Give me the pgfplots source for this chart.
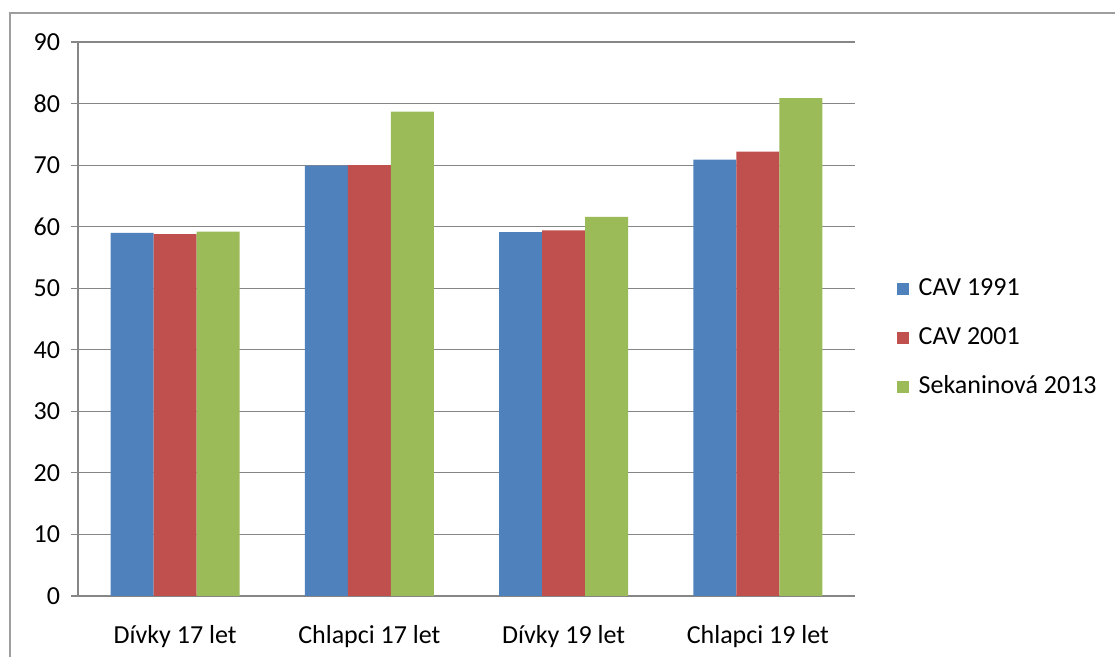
\documentclass[border=0pt]{standalone}
\usepackage{fontspec}
\setmainfont{Carlito}
\usepackage{pgfplots}
\pgfplotsset{compat=1.18}
\definecolor{cblue}{HTML}{4F81BD}
\definecolor{cred}{HTML}{C0504D}
\definecolor{cgreen}{HTML}{9BBB59}
\definecolor{cgrid}{HTML}{868686}
\begin{document}
\begin{tikzpicture}[x=1pt,y=1pt]
\fontsize{19.5}{23}\selectfont
\path[use as bounding box] (0,0) rectangle (836.25,492.75);
\draw[cgrid!80,line width=0.8pt] (7.5,0) -- (7.5,483) -- (836.25,483);
\begin{axis}[
  at={(58.5pt,45.75pt)}, anchor=south west,
  scale only axis, width=582.75pt, height=415.5pt,
  ybar=0pt, bar width=32.25pt,
  xmin=-0.5, xmax=3.5, ymin=0, ymax=90,
  ytick={0,10,...,90},
  xtick={0,1,2,3},
  xticklabels={Dívky 17 let, Chlapci 17 let, Dívky 19 let, Chlapci 19 let},
  x tick style={draw=none},
  extra x ticks={-0.5,0.5,1.5,2.5,3.5},
  extra x tick labels={},
  extra x tick style={grid=none, major tick length=5.25pt, tick style={draw=cgrid, line width=0.8pt}},
  tick align=outside,
  major tick length=5.25pt,
  y tick style={draw=cgrid, line width=0.8pt},
  axis lines*=left,
  axis line style={draw=cgrid, line width=0.8pt},
  ymajorgrids, major grid style={draw=cgrid, line width=0.8pt},
  /pgf/number format/assume math mode=true,
  tick label style={font=\fontsize{19.5}{23}\selectfont},
  yticklabel style={xshift=-1.5pt},
  xticklabel style={yshift=-10pt},
  legend style={at={(1.049,0.466)}, anchor=west, draw=none, fill=none,
    font=\fontsize{19.5}{23}\selectfont,
    nodes={inner sep=0pt, text height=14pt, text depth=4pt},
    row sep=18.5pt},
  legend cell align=left,
  legend image code/.code={\fill[#1] (0pt,-4.5pt) rectangle (9pt,4.5pt);},
  every axis legend/.append style={column sep=7pt},
]
\addplot[fill=cblue, draw=none] coordinates {(0,59.0) (1,69.9) (2,59.1) (3,70.9)};
\addplot[fill=cred, draw=none] coordinates {(0,58.8) (1,70.0) (2,59.4) (3,72.2)};
\addplot[fill=cgreen, draw=none] coordinates {(0,59.2) (1,78.7) (2,61.6) (3,80.9)};
\legend{CAV 1991, CAV 2001, Sekaninová 2013}
\end{axis}
\end{tikzpicture}
\end{document}
